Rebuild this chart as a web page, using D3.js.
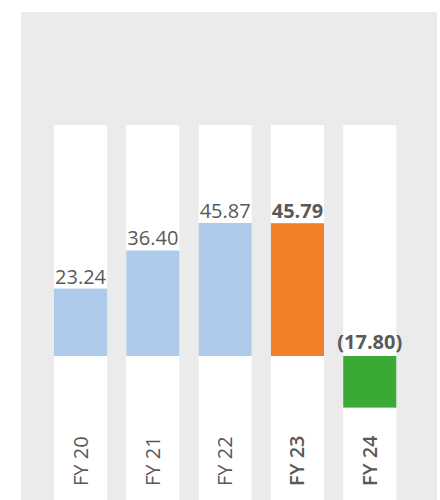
<!DOCTYPE html>
<html>
<head>
<meta charset="utf-8">
<script src="https://cdn.jsdelivr.net/npm/d3@7"></script>
<style>
  html, body { margin: 0; padding: 0; background: #ffffff; }
  svg { display: block; font-family: "Open Sans", "Noto Sans", sans-serif; }
</style>
</head>
<body>
<svg id="chart" width="440" height="500"></svg>
<script>
const categories = ["FY 20", "FY 21", "FY 22", "FY 23", "FY 24"];
const values = [23.24, 36.40, 45.87, 45.79, -17.80];
const valueLabels = ["23.24", "36.40", "45.87", "45.79", "(17.80)"];
const barColors = ["#aecbeb", "#aecbeb", "#aecbeb", "#f07f28", "#3aaa35"];
const boldFlags = [false, false, false, true, true];

const svg = d3.select("#chart");
const W = 440, H = 500;

// grey background panel
svg.append("rect")
  .attr("x", 21).attr("y", 12)
  .attr("width", 416).attr("height", H - 12)
  .attr("fill", "#ebebeb");

const x = d3.scaleBand()
  .domain(categories)
  .range([44.4, 405.9])
  .paddingInner(0.266)
  .paddingOuter(0.133);

const y = d3.scaleLinear()
  .domain([0, 50])
  .range([356, 211]);

const data = categories.map((c, i) => ({
  cat: c, value: values[i], label: valueLabels[i],
  color: barColors[i], bold: boldFlags[i]
}));

// white column backgrounds
svg.append("g").selectAll("rect")
  .data(data).join("rect")
  .attr("x", d => x(d.cat))
  .attr("y", 125)
  .attr("width", x.bandwidth())
  .attr("height", H - 125)
  .attr("fill", "#ffffff");

// bars
svg.append("g").selectAll("rect")
  .data(data).join("rect")
  .attr("x", d => x(d.cat))
  .attr("y", d => y(Math.max(0, d.value)))
  .attr("width", x.bandwidth())
  .attr("height", d => Math.abs(y(d.value) - y(0)))
  .attr("fill", d => d.color);

// value labels
svg.append("g").selectAll("text")
  .data(data).join("text")
  .attr("x", d => x(d.cat) + x.bandwidth() / 2)
  .attr("y", d => d.value >= 0 ? y(d.value) - 5 : y(0) - 7)
  .attr("text-anchor", "middle")
  .attr("font-size", 20)
  .attr("font-weight", d => d.bold ? 700 : 400)
  .attr("fill", "#595959")
  .text(d => d.label);

// category axis labels (rotated)
svg.append("g").selectAll("text")
  .data(data).join("text")
  .attr("transform", d => `translate(${x(d.cat) + x.bandwidth() / 2 + 7},486) rotate(-90)`)
  .attr("text-anchor", "start")
  .attr("font-size", 20)
  .attr("font-weight", d => d.bold ? 600 : 400)
  .attr("fill", "#595959")
  .text(d => d.cat);
</script>
</body>
</html>
